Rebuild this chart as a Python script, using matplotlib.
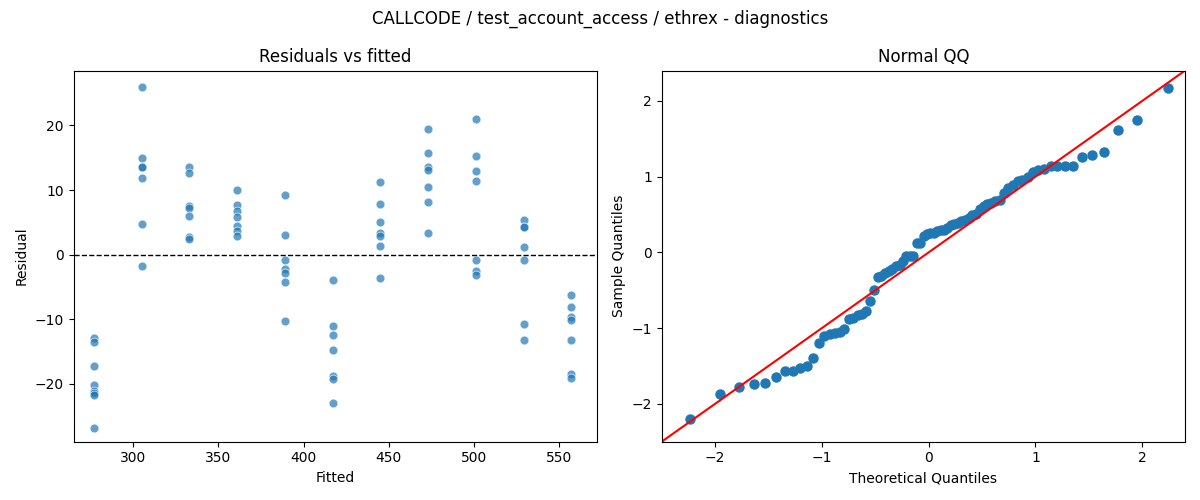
import math
import numpy as np
import matplotlib
matplotlib.use("Agg")
import matplotlib.pyplot as plt

fitted_levels = [277, 305, 333, 361, 389, 417, 445, 473, 501, 529, 557]
residual_groups = [
    [-13.0, -13.6, -17.2, -20.2, -21.2, -21.4, -21.8, -26.9],
    [26.0, 15.0, 13.6, 13.6, 11.9, 4.8, -1.7],
    [13.6, 12.7, 7.5, 7.2, 5.9, 2.7, 2.4],
    [10.0, 7.6, 6.7, 5.8, 4.5, 3.6, 2.9],
    [9.3, 3.1, -0.9, -2.3, -2.9, -4.2, -10.3],
    [-4.0, -11.0, -12.5, -14.8, -18.8, -19.3, -23.0],
    [11.2, 7.9, 5.0, 3.3, 2.9, 1.3, -3.6],
    [19.4, 15.8, 13.6, 13.1, 10.5, 8.1, 3.4],
    [21.0, 15.3, 13.0, 11.4, -0.9, -2.5, -3.2],
    [5.3, 4.3, 4.2, 1.2, -0.8, -10.8, -13.2],
    [-6.3, -8.1, -9.6, -10.1, -13.3, -18.5, -19.2],
]

fitted = []
resid = []
for f, g in zip(fitted_levels, residual_groups):
    fitted += [f] * len(g)
    resid += g
fitted = np.array(fitted)
resid = np.array(resid)


def norm_ppf(p):
    lo, hi = -10.0, 10.0
    for _ in range(80):
        mid = (lo + hi) / 2
        if 0.5 * (1 + math.erf(mid / math.sqrt(2))) < p:
            lo = mid
        else:
            hi = mid
    return (lo + hi) / 2


n = len(resid)
sample = np.sort((resid - resid.mean()) / resid.std(ddof=1))
theo = np.array([norm_ppf(i / (n + 1)) for i in range(1, n + 1)])

fig, (ax1, ax2) = plt.subplots(1, 2, figsize=(12, 5))
fig.suptitle("CALLCODE / test_account_access / ethrex - diagnostics")

ax1.scatter(fitted, resid, s=40, alpha=0.7, color="#1f77b4", edgecolor="white", linewidth=0.6)
ax1.axhline(0, color="black", linestyle="--", linewidth=1)
ax1.set_xlim(265, 572)
ax1.set_ylim(-29, 28.5)
ax1.set_title("Residuals vs fitted")
ax1.set_xlabel("Fitted")
ax1.set_ylabel("Residual")

ax2.plot(theo, sample, "o", color="#1f77b4", markersize=6.5)
ax2.set_xlim(-2.5, 2.4)
ax2.set_ylim(-2.5, 2.4)
ax2.plot([-3, 3], [-3, 3], color="red")
ax2.set_title("Normal QQ")
ax2.set_xlabel("Theoretical Quantiles")
ax2.set_ylabel("Sample Quantiles")

plt.tight_layout()
plt.savefig("out.png", dpi=100)
